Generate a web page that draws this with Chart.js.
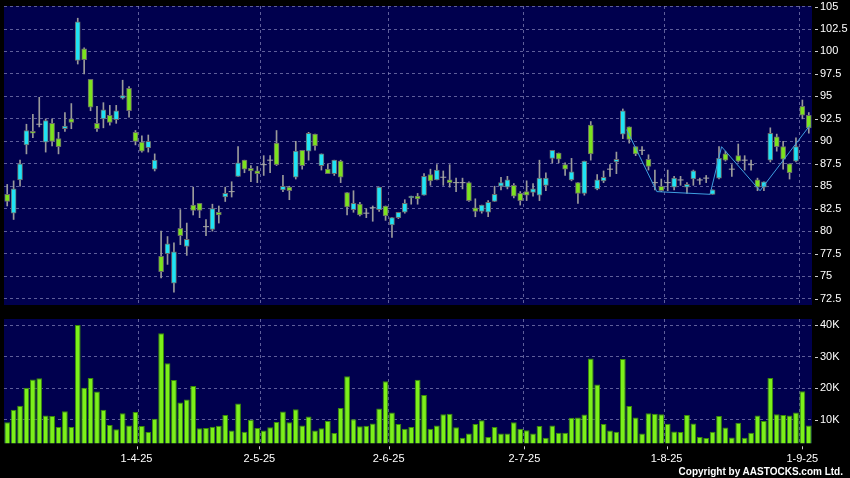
<!DOCTYPE html>
<html><head><meta charset="utf-8">
<script src="https://cdn.jsdelivr.net/npm/chart.js@4.4.1/dist/chart.umd.min.js"></script>
<style>
html,body{margin:0;padding:0;background:#000;}
#wrap{position:relative;width:850px;height:478px;background:#000;overflow:hidden}
#pc{position:absolute;left:0;top:0}
#vc{position:absolute;left:0;top:312px}
#copy{position:absolute;right:7px;top:466px;font:bold 10px "Liberation Sans",Arial,sans-serif;color:#fff;letter-spacing:0px;line-height:12px;white-space:nowrap}
</style></head><body>
<div id="wrap">
<canvas id="pc" width="850" height="312"></canvas>
<canvas id="vc" width="850" height="166"></canvas>
<div id="copy">Copyright by AASTOCKS.com Ltd.</div>
</div>
<script>
// ---- data ----
const firstTradingDay = '2025-03-03';
const holidays = ['2025-04-04','2025-04-18','2025-04-21','2025-05-01','2025-05-05','2025-07-01'];
const monthTickLabels = ['1-4-25','2-5-25','2-6-25','2-7-25','1-8-25','1-9-25'];
const priceTicks = [72.5,75,77.5,80,82.5,85,87.5,90,92.5,95,97.5,100,102.5,105];
const volumeTicks = [10,20,30,40];

const opens = [84.1,82.0,85.7,89.6,91.1,91.9,89.9,92.0,90.3,91.4,
 92.5,99.0,100.3,96.9,92.0,92.5,92.9,92.4,94.8,95.9,
 91.0,89.9,89.3,86.9,77.2,77.5,74.2,80.3,78.3,82.9,
 83.1,80.5,80.2,82.1,83.8,84.4,86.1,87.9,87.0,86.7,
 87.4,87.9,89.8,84.6,84.9,86.0,89.0,88.9,90.8,87.3,
 86.9,86.4,87.8,84.3,82.4,83.0,82.0,82.6,82.4,82.8,
 80.7,81.5,82.1,83.7,83.9,84.0,86.3,85.7,86.0,85.7,
 85.4,85.4,85.4,82.6,82.2,82.1,83.3,85.0,84.9,85.1,
 84.2,84.4,84.3,84.0,85.1,88.1,88.7,87.4,85.7,85.4,
 84.2,91.8,84.7,85.6,86.9,87.7,90.8,91.6,89.4,89.0,
 88.0,85.4,85.0,85.4,84.9,85.7,84.9,85.8,85.7,85.9,
 84.1,85.9,88.6,86.9,88.4,87.9,87.4,85.7,84.9,87.9,
 90.5,89.4,87.5,87.8,93.9,92.9];
const highs = [85.2,85.6,87.9,91.9,93.0,94.9,92.5,92.5,91.0,93.2,
 94.2,103.7,100.4,96.9,93.9,94.3,94.0,94.0,96.8,96.1,
 91.2,90.6,90.7,88.6,80.0,79.4,78.7,82.4,80.9,84.9,
 83.1,81.3,83.0,82.8,84.9,85.5,89.4,87.9,87.3,87.2,
 88.4,88.4,91.2,86.2,85.0,90.0,89.0,91.0,90.8,88.6,
 87.5,87.9,87.9,84.3,84.5,83.2,82.5,82.8,84.9,82.8,
 81.5,82.1,83.5,83.9,84.2,86.4,86.9,87.4,86.7,87.4,
 85.9,85.9,85.5,83.6,82.9,83.4,85.0,86.0,86.1,85.3,
 84.4,85.6,85.3,87.9,86.5,89.0,88.7,87.6,88.1,85.4,
 87.8,92.2,86.3,86.7,87.4,88.8,93.6,91.6,89.4,89.4,
 88.5,86.8,85.8,86.8,86.1,86.1,85.4,86.8,85.9,86.2,
 84.6,89.4,88.9,87.4,89.7,88.4,87.9,85.9,85.5,91.5,
 90.8,90.0,87.5,90.4,94.6,93.2];
const lows = [82.8,81.3,85.0,88.6,90.4,91.6,88.8,89.5,88.6,91.1,
 91.4,98.6,97.5,93.4,91.1,91.5,91.8,92.0,94.7,92.7,
 89.6,88.8,88.8,86.7,74.8,76.3,73.2,78.5,77.3,81.8,
 81.5,79.5,80.0,80.9,83.3,83.8,86.1,86.5,85.5,85.4,
 86.2,86.5,87.3,84.4,83.5,85.8,86.9,87.9,89.0,86.8,
 86.4,86.2,85.4,81.8,82.1,81.7,81.5,81.1,82.2,81.2,
 79.3,81.4,82.0,83.0,83.0,84.0,85.1,85.7,85.1,84.9,
 84.4,84.7,83.3,81.6,82.0,81.6,83.3,84.6,84.7,83.7,
 82.9,83.4,83.9,83.4,84.5,87.6,87.6,86.2,85.6,83.1,
 84.0,87.9,84.6,85.4,86.1,86.4,90.3,89.8,88.4,88.5,
 86.8,84.6,84.4,84.5,84.6,85.1,84.2,85.1,85.2,85.4,
 84.1,85.8,87.8,86.1,87.7,86.8,86.8,84.5,84.5,87.7,
 88.9,86.9,85.8,87.7,92.5,90.9];
const closes = [83.3,84.7,87.5,91.2,90.9,91.9,92.3,90.0,89.4,91.7,
 92.1,103.3,99.1,93.8,91.4,93.5,92.1,93.4,95.1,93.4,
 90.0,88.9,90.0,87.9,75.5,78.6,77.7,79.5,79.1,82.3,
 82.3,80.5,82.5,81.8,84.2,84.4,87.6,86.9,86.7,86.4,
 87.4,87.9,87.4,85.0,84.5,88.9,87.3,90.9,89.5,88.6,
 86.4,87.9,86.0,82.7,83.1,81.8,82.0,82.6,84.9,81.7,
 81.5,82.1,83.1,83.9,83.6,86.1,85.6,86.8,86.0,85.4,
 85.4,85.4,83.4,82.2,82.9,83.2,84.1,85.4,85.7,83.9,
 83.4,84.0,84.7,85.9,85.9,89.0,88.0,86.9,86.6,84.2,
 87.8,88.6,85.7,86.0,86.9,88.0,93.4,90.2,88.6,89.0,
 87.2,85.4,84.5,85.4,85.9,85.7,85.2,86.7,85.7,85.9,
 84.6,88.1,87.9,86.9,87.8,87.9,87.4,84.9,85.5,90.9,
 89.4,88.0,86.5,89.4,92.9,91.5];
const volumesK = [9.3,13.2,14.5,20.2,22.8,23.2,11.4,11.3,7.8,12.8,
 7.8,40.0,20.2,23.3,19.0,13.2,8.4,7.1,12.1,8.3,
 12.5,8.1,6.2,10.4,37.4,27.9,22.6,15.5,16.5,20.7,
 7.4,7.5,7.9,8.2,11.6,6.7,15.2,6.3,10.1,7.5,
 6.7,7.7,9.4,12.7,9.3,13.4,8.3,11.1,6.7,7.4,
 9.7,5.9,13.8,23.8,10.2,8.0,8.2,8.9,13.6,22.2,
 12.4,8.7,7.2,7.8,22.7,17.9,7.2,8.3,11.8,12.0,
 7.7,4.4,5.7,8.7,9.9,4.6,7.8,5.7,5.7,9.3,
 7.2,6.8,5.7,8.1,4.4,8.3,6.0,6.0,10.7,10.8,
 11.7,29.4,21.2,8.7,6.7,6.3,29.3,14.4,10.8,5.7,
 12.1,12.0,11.8,8.8,6.4,6.2,11.6,8.9,4.6,4.3,
 6.3,11.3,7.6,4.5,9.1,4.4,6.0,11.4,9.7,23.3,
 11.8,11.6,11.4,12.4,19.1,8.3];
// zig-zag overlay vertices (bar position, price)
const zigzagX = [96.6,101.3,109.6,111.4,117.4,125.2];
const zigzagY = [91.3,84.4,84.1,89.4,84.5,91.8];

// ---- trading-day categories ----
function tradingDays(startIso, n) {
  const out = [];
  const [y0, m0, d0] = startIso.split('-').map(Number);
  const d = new Date(Date.UTC(y0, m0 - 1, d0));
  while (out.length < n) {
    const dow = d.getUTCDay();
    const iso = d.toISOString().slice(0, 10);
    if (dow !== 0 && dow !== 6 && !holidays.includes(iso)) {
      out.push(d.getUTCDate() + '-' + (d.getUTCMonth() + 1) + '-' + String(d.getUTCFullYear()).slice(2));
    }
    d.setUTCDate(d.getUTCDate() + 1);
  }
  return out;
}
const categories = tradingDays(firstTradingDay, opens.length);
const N = categories.length;
const tickIdx = monthTickLabels.map(l => categories.indexOf(l));

// ---- styling ----
const NAVY = '#00004e';
const GRID = 'rgba(130,130,185,0.72)';
const FONT = '"Liberation Sans", Arial, sans-serif';
const CYAN = '#1fe3f5';
const GREEN = '#7ce21e';
Chart.defaults.font.family = FONT;

const bgPlugin = {
  id: 'bg',
  beforeDraw(c) {
    const a = c.chartArea, ctx = c.ctx;
    ctx.save(); ctx.fillStyle = NAVY;
    ctx.fillRect(a.left, a.top, a.right - a.left, a.bottom - a.top);
    ctx.restore();
  }
};
const markPlugin = {
  id: 'marks',
  afterDraw(c, args, opts) {
    const ctx = c.ctx, a = c.chartArea;
    ctx.save(); ctx.strokeStyle = '#cfcfcf'; ctx.lineWidth = 1;
    const ys = c.scales.y;
    ys.ticks.forEach(t => {
      const py = Math.round(ys.getPixelForValue(t.value)) + 0.5;
      ctx.beginPath(); ctx.moveTo(a.right + 3, py); ctx.lineTo(a.right + 6, py); ctx.stroke();
    });
    if (opts && opts.xScale) {
      const xs = c.scales[opts.xScale];
      xs.ticks.forEach(t => {
        const px = Math.round(xs.getPixelForValue(t.value)) + 0.5;
        ctx.beginPath(); ctx.moveTo(px, a.bottom + 3); ctx.lineTo(px, a.bottom + 6); ctx.stroke();
      });
    }
    ctx.restore();
  }
};

const zeroH = s => { s.height = 0; s.paddingLeft = 0; s.paddingRight = 0; };
// category axis carrying the bars (no visible parts)
const barAxis = () => ({
  type: 'category', offset: true, afterFit: zeroH,
  ticks: { display: false }, grid: { display: false, drawTicks: false }, border: { display: false }
});
// month grid lines, at the left edge of the month's first trading day
const monthGridAxis = () => ({
  type: 'linear', position: 'bottom', offset: false, min: -0.5, max: N - 0.5,
  afterBuildTicks: s => { s.ticks = tickIdx.map(k => ({ value: k - 0.5 })); },
  afterFit: zeroH,
  ticks: { display: false },
  grid: { color: GRID, drawTicks: false, offset: false },
  border: { display: false, dash: [3, 3] }
});

// ---- price chart ----
new Chart(document.getElementById('pc'), {
  type: 'bar',
  data: {
    labels: categories,
    datasets: [
      { label: 'wick', data: lows.map((l, i) => [l, highs[i]]), backgroundColor: '#9a9a9a',
        barThickness: 1, grouped: false, order: 3, borderWidth: 0 },
      { label: 'body', data: opens.map((o, i) => o === closes[i] ? null : [o, closes[i]]),
        backgroundColor: opens.map((o, i) => closes[i] > o ? CYAN : GREEN),
        borderColor: '#6a6a6a', borderWidth: 1, borderSkipped: false,
        barThickness: 5, grouped: false, order: 2 },
      { type: 'line', label: 'doji', data: opens.map((o, i) => o === closes[i] ? o : null),
        showLine: false, pointStyle: 'line', pointRadius: 3, pointHoverRadius: 3,
        pointBorderColor: '#a8a8a8', pointBorderWidth: 1, order: 1 },
      { type: 'line', label: 'zigzag', xAxisID: 'x2',
        data: zigzagX.map((x, i) => ({ x: x, y: zigzagY[i] })),
        borderColor: '#3f9fe0', borderWidth: 1, pointRadius: 0, fill: false, tension: 0, order: 0 }
    ]
  },
  options: {
    responsive: false, animation: false, events: [],
    layout: { padding: { left: 4, right: 0, top: 6, bottom: 7 } },
    plugins: { legend: { display: false }, tooltip: { enabled: false }, marks: {} },
    scales: {
      x: barAxis(),
      x2: monthGridAxis(),
      y: {
        position: 'right', min: 71.78, max: 105.06,
        afterBuildTicks: s => { s.ticks = priceTicks.map(v => ({ value: v })); },
        afterFit: s => { s.width = 38; s.paddingTop = 0; s.paddingBottom = 0; },
        ticks: { color: '#ffffff', font: { size: 11 }, padding: 8, callback: v => String(v) },
        grid: { color: GRID, drawTicks: false },
        border: { display: false, dash: [3, 3] }
      }
    }
  },
  plugins: [bgPlugin, markPlugin]
});

// ---- volume chart ----
new Chart(document.getElementById('vc'), {
  type: 'bar',
  data: {
    labels: categories,
    datasets: [{ label: 'volume', data: volumesK, backgroundColor: '#7cf01a',
      borderColor: '#3a8c08', borderWidth: 1, barPercentage: 0.9, categoryPercentage: 1.0 }]
  },
  options: {
    responsive: false, animation: false, events: [],
    layout: { padding: { left: 4, right: 0, top: 7, bottom: 0 } },
    plugins: { legend: { display: false }, tooltip: { enabled: false }, marks: { xScale: 'x3' } },
    scales: {
      x: barAxis(),
      x2: monthGridAxis(),
      x3: {
        type: 'linear', position: 'bottom', offset: false, min: 0.5, max: N - 0.5,
        afterBuildTicks: s => { s.ticks = tickIdx.map(k => ({ value: k })); },
        afterFit: s => { s.height = 34.7; s.paddingLeft = 0; s.paddingRight = 0; },
        ticks: { color: '#ffffff', font: { size: 11 }, padding: 9, maxRotation: 0, autoSkip: false,
          callback: v => categories[v] },
        grid: { display: false, drawTicks: false, offset: false },
        border: { display: false }
      },
      y: {
        position: 'right', min: 2.64, max: 41.9,
        afterBuildTicks: s => { s.ticks = volumeTicks.map(v => ({ value: v })); },
        afterFit: s => { s.width = 38; s.paddingTop = 0; s.paddingBottom = 0; },
        ticks: { color: '#ffffff', font: { size: 11 }, padding: 8, callback: v => v + 'K' },
        grid: { color: GRID, drawTicks: false },
        border: { display: false, dash: [3, 3] }
      }
    }
  },
  plugins: [bgPlugin, markPlugin]
});
</script></body></html>
